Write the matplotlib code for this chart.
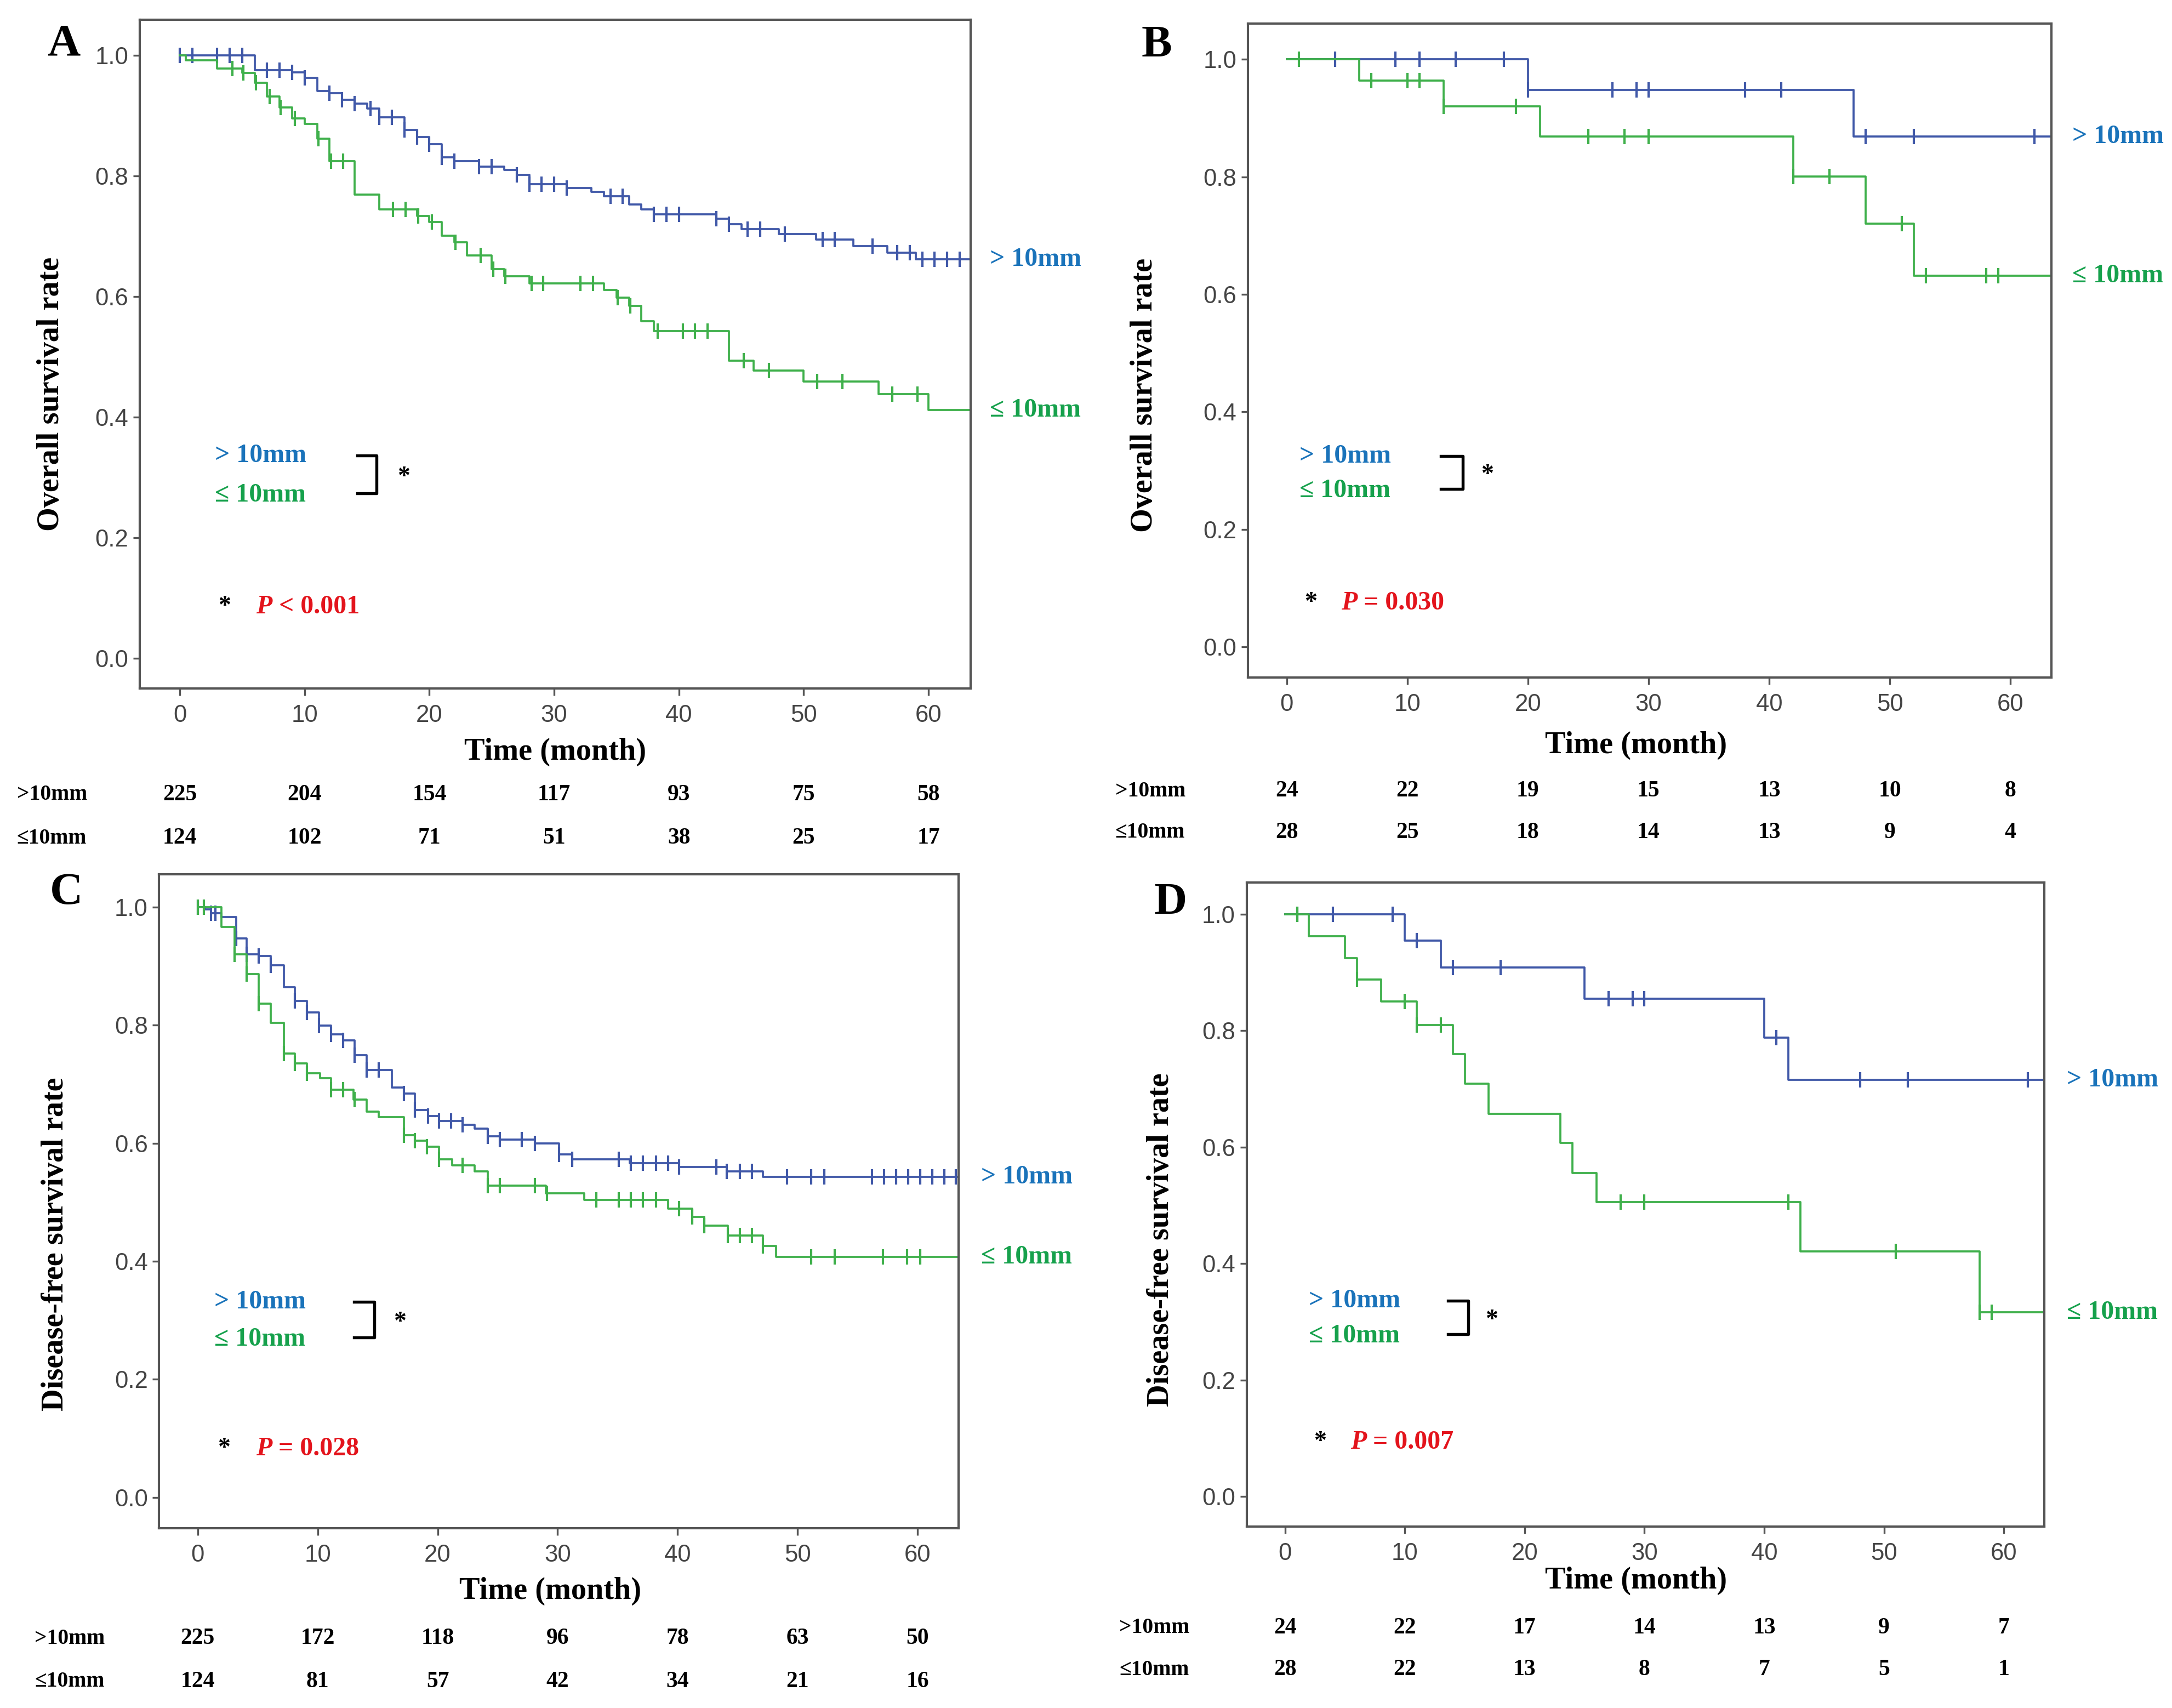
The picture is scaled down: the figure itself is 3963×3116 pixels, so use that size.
import numpy as np
import matplotlib
matplotlib.use("Agg")
import matplotlib.pyplot as plt

# ---- data ----
# step times (month) and survival after each step, plus censor times

# A: overall survival, all patients
A_blue_t = [6, 9, 10, 11, 12, 13, 14, 15, 16, 18, 19, 20, 21, 22, 24, 26, 27, 28, 31, 33, 34,
            36, 37, 38, 43, 44, 45, 48, 51, 54, 56.7, 59]
A_blue_s = [0.976, 0.972, 0.963, 0.941, 0.938, 0.927, 0.920, 0.912, 0.898, 0.877, 0.865, 0.853,
            0.831, 0.825, 0.816, 0.810, 0.802, 0.787, 0.780, 0.774, 0.767, 0.753, 0.745, 0.737,
            0.729, 0.720, 0.712, 0.704, 0.695, 0.684, 0.673, 0.662]
A_blue_c = [0, 1, 3, 4, 5, 7, 8, 9, 10, 12, 13, 14, 15.3, 16, 17, 18, 19, 20, 21, 22, 24, 25, 27,
            28, 29, 30, 31, 34.5, 35.5, 38, 39, 40, 43, 44, 45.5, 46.5, 48.5, 51.5, 52.5, 55.5,
            57.5, 58.5, 59.5, 60.5, 61.5, 62.5]
A_green_t = [0.5, 3, 5, 6, 7, 8, 9, 10, 11, 12, 14, 16, 19, 20, 21, 22, 23, 25, 26, 28, 34, 35,
             36, 37, 38, 44, 46, 50, 56, 60]
A_green_s = [0.992, 0.979, 0.971, 0.955, 0.932, 0.914, 0.896, 0.887, 0.862, 0.825, 0.769, 0.745,
             0.734, 0.724, 0.701, 0.690, 0.668, 0.646, 0.634, 0.622, 0.611, 0.598, 0.585, 0.559,
             0.543, 0.494, 0.477, 0.459, 0.438, 0.412]
A_green_c = [4.2, 5.1, 6.1, 7.2, 8.1, 9.2, 11.1, 12.1, 13.1, 17.1, 18.1, 19.1, 20.2, 22.1, 24.1,
             25.1, 26.1, 28.2, 29.1, 32.1, 33.1, 35.1, 36.1, 38.3, 40.3, 41.3, 42.3, 45.2, 47.2,
             51.1, 53.1, 57.1, 59.1]

# B: overall survival, subgroup
B_blue_t = [20, 47]
B_blue_s = [0.948, 0.869]
B_blue_c = [4, 9, 11, 14, 18, 20, 27, 29, 30, 38, 41, 48, 52, 62]
B_green_t = [6, 13, 21, 42, 48, 52]
B_green_s = [0.964, 0.920, 0.869, 0.801, 0.720, 0.632]
B_green_c = [1, 7, 10, 11, 13, 19, 25, 28, 30, 42, 45, 51, 53, 58, 59]

# C: disease-free survival, all patients
C_blue_t = [0.6, 1.1, 2, 3.2, 4.1, 5.1, 6.1, 7.2, 8.1, 9.1, 10.1, 11.1, 12.1, 13.1, 14.1, 16.2,
            17.2, 18.1, 19.2, 20.1, 22.1, 23.1, 24.2, 25.2, 28.1, 30.1, 31.2, 36, 40.1, 44.1, 47.1]
C_blue_s = [0.996, 0.990, 0.983, 0.947, 0.920, 0.917, 0.902, 0.864, 0.841, 0.822, 0.799, 0.785,
            0.774, 0.749, 0.724, 0.694, 0.684, 0.656, 0.646, 0.638, 0.631, 0.625, 0.612, 0.606,
            0.600, 0.581, 0.573, 0.566, 0.560, 0.552, 0.543]
C_blue_c = [0, 1.1, 1.5, 3.2, 4.1, 5.1, 6.1, 8.1, 9.1, 10.1, 11.1, 12.1, 13.1, 14.1, 15.1, 17.2,
            18.1, 19.2, 20.1, 21.1, 22.1, 24.2, 25.2, 27, 28.1, 30.1, 31.2, 35.1, 36.1, 37.1,
            38.2, 39.2, 40.1, 43.2, 44.1, 45.2, 46.2, 49.1, 51.1, 52.2, 56.2, 57.2, 58.2, 59.2,
            60.2, 61.2, 62.2, 63.2]
C_green_t = [2, 3.1, 4.1, 5.1, 6.1, 7.2, 8.1, 9.1, 10.2, 11.1, 13, 14.1, 15.1, 17.2, 18.1, 19.1,
             20.1, 21.2, 23.1, 24.2, 29, 32.2, 39.2, 41.2, 42.2, 44.2, 47.1, 48.2]
C_green_s = [0.967, 0.920, 0.887, 0.837, 0.804, 0.752, 0.735, 0.719, 0.710, 0.691, 0.674, 0.654,
             0.644, 0.614, 0.604, 0.594, 0.573, 0.563, 0.552, 0.528, 0.515, 0.504, 0.489, 0.475,
             0.460, 0.444, 0.426, 0.407]
C_green_c = [0, 0.5, 3.1, 4.1, 5.1, 7.2, 8.1, 9.1, 11.1, 12.1, 13.1, 17.2, 18.1, 19.1, 20.1,
             22.1, 24.2, 25.2, 28.1, 29.1, 33.2, 35.1, 36.1, 37.1, 38.2, 40.1, 41.2, 42.2, 44.2,
             45.2, 46.2, 47.1, 51.1, 53.1, 57.1, 59.1, 60.2]

# D: disease-free survival, subgroup
D_blue_t = [10, 13, 25, 40, 42]
D_blue_s = [0.955, 0.909, 0.855, 0.788, 0.716]
D_blue_c = [1, 4, 9, 11, 14, 18, 27, 29, 30, 41, 48, 52, 62]
D_green_t = [2, 5, 6, 8, 11, 14, 15, 17, 23, 24, 26, 43, 58]
D_green_s = [0.962, 0.925, 0.888, 0.850, 0.810, 0.760, 0.709, 0.657, 0.607, 0.556, 0.506, 0.421,
             0.316]
D_green_c = [1, 6, 10, 11, 13, 28, 30, 42, 51, 58, 59]

# numbers at risk
risk_times = [0, 10, 20, 30, 40, 50, 60]
A_risk_blue = [225, 204, 154, 117, 93, 75, 58]
A_risk_green = [124, 102, 71, 51, 38, 25, 17]
B_risk_blue = [24, 22, 19, 15, 13, 10, 8]
B_risk_green = [28, 25, 18, 14, 13, 9, 4]
C_risk_blue = [225, 172, 118, 96, 78, 63, 50]
C_risk_green = [124, 81, 57, 42, 34, 21, 16]
D_risk_blue = [24, 22, 17, 14, 13, 9, 7]
D_risk_green = [28, 22, 13, 8, 7, 5, 1]

p_values = ["< 0.001", "= 0.030", "= 0.028", "= 0.007"]
y_titles = ["Overall survival rate", "Overall survival rate",
            "Disease-free survival rate", "Disease-free survival rate"]

# ---- styling ----
SERIF = ["Liberation Serif", "DejaVu Serif"]
SANS = ["Liberation Sans", "DejaVu Sans"]
line_blue = "#4058a8"
line_green = "#3fb04b"
txt_blue = "#1a73ba"
txt_green = "#16a14c"
txt_red = "#e3141c"
TMAX = 63.4

panels = [
    dict(letter="A", pos=[0.0644, 0.597, 0.3826, 0.3916], ylim=(-0.05, 1.06),
         blue=(A_blue_t, A_blue_s, A_blue_c), green=(A_green_t, A_green_s, A_green_c),
         risk=(A_risk_blue, A_risk_green), letter_xy=(0.0293, 0.974), rowlab_x=0.0077,
         ylab=(-0.107, 0.44), xlab=(0.5, -0.095), risk_y=(-0.159, -0.224), right_x=1.023,
         leg_x=0.09, leg_y=(0.336, 0.271), br=(0.262, 0.285), star=(0.31, 0.30),
         pstar=(0.102, 0.085), p_x=0.14),
    dict(letter="B", pos=[0.5746, 0.6034, 0.3699, 0.3828], ylim=(-0.052, 1.061),
         blue=(B_blue_t, B_blue_s, B_blue_c), green=(B_green_t, B_green_s, B_green_c),
         risk=(B_risk_blue, B_risk_green), letter_xy=(0.5325, 0.9732), rowlab_x=0.5134,
         ylab=(-0.129, 0.432), xlab=(0.483, -0.104), risk_y=(-0.174, -0.237), right_x=1.026,
         leg_x=0.064, leg_y=(0.325, 0.266), br=(0.24, 0.267), star=(0.29, 0.292),
         pstar=(0.078, 0.075), p_x=0.116),
    dict(letter="C", pos=[0.0733, 0.1054, 0.368, 0.3828], ylim=(-0.052, 1.056),
         blue=(C_blue_t, C_blue_s, C_blue_c), green=(C_green_t, C_green_s, C_green_c),
         risk=(C_risk_blue, C_risk_green), letter_xy=(0.0306, 0.4769), rowlab_x=0.0159,
         ylab=(-0.13, 0.434), xlab=(0.489, -0.097), risk_y=(-0.169, -0.235), right_x=1.028,
         leg_x=0.069, leg_y=(0.331, 0.268), br=(0.244, 0.269), star=(0.293, 0.296),
         pstar=(0.081, 0.082), p_x=0.121),
    dict(letter="D", pos=[0.574, 0.1062, 0.3673, 0.3772], ylim=(-0.052, 1.055),
         blue=(D_blue_t, D_blue_s, D_blue_c), green=(D_green_t, D_green_s, D_green_c),
         risk=(D_risk_blue, D_risk_green), letter_xy=(0.539, 0.4712), rowlab_x=0.5153,
         ylab=(-0.108, 0.445), xlab=(0.488, -0.084), risk_y=(-0.157, -0.222), right_x=1.028,
         leg_x=0.078, leg_y=(0.336, 0.276), br=(0.252, 0.278), star=(0.299, 0.302),
         pstar=(0.092, 0.093), p_x=0.13),
]


def km_curve(ax, t, s, cens, color):
    t = np.asarray(t, float)
    s = np.asarray(s, float)
    tt = np.r_[0, t, TMAX]
    ss = np.r_[1.0, s, s[-1]]
    ax.step(tt, ss, where="post", color=color, lw=0.9, clip_on=True)
    idx = np.searchsorted(t, cens, side="right")
    cs = np.r_[1.0, s][idx]
    ax.plot(cens, cs, ls="none", marker="|", ms=6.5, mew=1.0, color=color)
    return s[-1]


fig = plt.figure(figsize=(3963 / 300, 3116 / 300), dpi=300)
fig.patch.set_facecolor("white")

for i, p in enumerate(panels):
    ax = fig.add_axes(p["pos"])
    end_b = km_curve(ax, *p["blue"], line_blue)
    end_g = km_curve(ax, *p["green"], line_green)

    ax.set_xlim(-3.2, TMAX)
    ax.set_ylim(*p["ylim"])
    ax.set_xticks(risk_times)
    ax.set_yticks([0.0, 0.2, 0.4, 0.6, 0.8, 1.0])
    ax.set_yticklabels(["0.0", "0.2", "0.4", "0.6", "0.8", "1.0"])
    for sp in ax.spines.values():
        sp.set_color("#555555")
        sp.set_linewidth(1.0)
    ax.tick_params(direction="out", length=3, width=0.8, color="#555555",
                   labelsize=10.5, labelcolor="#444444", pad=2)
    ax.tick_params(axis="x", pad=4)
    for lab in ax.get_xticklabels() + ax.get_yticklabels():
        lab.set_family(SANS)

    ax.set_ylabel(y_titles[i], family=SERIF, fontweight="bold", fontsize=13.5)
    ax.yaxis.label.set_va("center")
    ax.yaxis.set_label_coords(*p["ylab"])
    ax.set_xlabel("Time (month)", family=SERIF, fontweight="bold", fontsize=13.5)
    ax.xaxis.label.set_va("center")
    ax.xaxis.set_label_coords(*p["xlab"])

    fig.text(*p["letter_xy"], p["letter"], family=SERIF, fontweight="bold", fontsize=20,
             ha="center", va="center")

    # labels at the end of the curves
    yt = ax.get_yaxis_transform()
    ax.text(p["right_x"], end_b, "> 10mm", transform=yt, color=txt_blue, family=SERIF,
            fontweight="bold", fontsize=11.5, va="center", ha="left", clip_on=False)
    ax.text(p["right_x"], end_g, "\u2264 10mm", transform=yt, color=txt_green, family=SERIF,
            fontweight="bold", fontsize=11.5, va="center", ha="left", clip_on=False)

    # inner comparison legend with bracket
    ax.text(p["leg_x"], p["leg_y"][0], "> 10mm", transform=yt, color=txt_blue, family=SERIF,
            fontweight="bold", fontsize=11.5, va="center", ha="left")
    ax.text(p["leg_x"], p["leg_y"][1], "\u2264 10mm", transform=yt, color=txt_green,
            family=SERIF, fontweight="bold", fontsize=11.5, va="center", ha="left")
    x0, x1 = p["br"]
    ytop, ybot = p["leg_y"][0], p["leg_y"][1] + 0.003
    ax.plot([x0, x1, x1, x0], [ytop, ytop, ybot, ybot], transform=yt, color="black", lw=1.3)
    ax.text(*p["star"], "*", transform=yt, family=SERIF, fontweight="bold", fontsize=11,
            va="center", ha="left")

    # p value
    ax.text(*p["pstar"], "*", transform=yt, family=SERIF, fontweight="bold", fontsize=11,
            va="center", ha="center")
    pt = ax.text(p["p_x"], p["pstar"][1], "P", transform=yt, color=txt_red, family=SERIF,
                 fontweight="bold", fontstyle="italic", fontsize=11.5, va="center", ha="left")
    ax.annotate(" " + p_values[i], xy=(1, 0), xycoords=pt, va="bottom", ha="left",
                color=txt_red, family=SERIF, fontweight="bold", fontsize=11.5)

    # numbers at risk
    xt = ax.get_xaxis_transform()
    rb, rg = p["risk"]
    yb, yg = p["risk_y"]
    for tx, nb, ng in zip(risk_times, rb, rg):
        ax.text(tx, yb, str(nb), transform=xt, family=SERIF, fontweight="bold", fontsize=10,
                ha="center", va="center", clip_on=False)
        ax.text(tx, yg, str(ng), transform=xt, family=SERIF, fontweight="bold", fontsize=10,
                ha="center", va="center", clip_on=False)
    fy_b = fig.transFigure.inverted().transform(xt.transform((0, yb)))[1]
    fy_g = fig.transFigure.inverted().transform(xt.transform((0, yg)))[1]
    fig.text(p["rowlab_x"], fy_b, ">10mm", family=SERIF, fontweight="bold", fontsize=9.5,
             ha="left", va="center")
    fig.text(p["rowlab_x"], fy_g, "\u226410mm", family=SERIF, fontweight="bold", fontsize=9.5,
             ha="left", va="center")

fig.savefig("out.png", dpi=300, facecolor="white")
